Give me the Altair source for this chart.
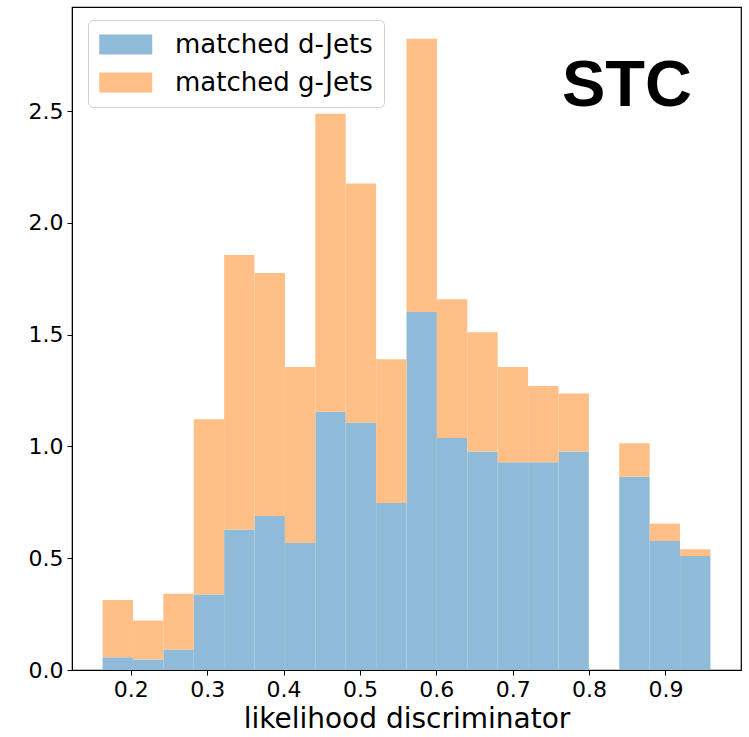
import altair as alt
import pandas as pd

# Histogram bin edges (20 equal bins over the discriminator range)
bin_lo = [0.163, 0.2028, 0.2426, 0.2824, 0.3222, 0.362, 0.4018, 0.4416, 0.4814, 0.5212,
          0.561, 0.6008, 0.6406, 0.6804, 0.7202, 0.76, 0.7998, 0.8396, 0.8794, 0.9192]
bin_hi = [0.2028, 0.2426, 0.2824, 0.3222, 0.362, 0.4018, 0.4416, 0.4814, 0.5212, 0.561,
          0.6008, 0.6406, 0.6804, 0.7202, 0.76, 0.7998, 0.8396, 0.8794, 0.9192, 0.959]

# Normalised counts per bin for each jet class (stacked: d-jets below, g-jets on top)
d_jets = [0.057, 0.047, 0.092, 0.338, 0.629, 0.689, 0.568, 1.155, 1.107, 0.747,
          1.602, 1.038, 0.977, 0.929, 0.929, 0.977, 0.0, 0.865, 0.577, 0.510]
g_jets = [0.256, 0.175, 0.249, 0.784, 1.227, 1.087, 0.788, 1.333, 1.069, 0.643,
          1.222, 0.621, 0.534, 0.427, 0.341, 0.260, 0.0, 0.149, 0.078, 0.030]

series_names = ["matched d-Jets", "matched g-Jets"]
series_colors = ["#8FBBD9", "#FFBF86"]

x_ticks = [0.2, 0.3, 0.4, 0.5, 0.6, 0.7, 0.8, 0.9]
y_ticks = [0.0, 0.5, 1.0, 1.5, 2.0, 2.5]

label_text = ["STC"]
label_x = [0.7645]
label_y = [2.525]

rows = []
for lo, hi, d, g in zip(bin_lo, bin_hi, d_jets, g_jets):
    rows.append({"lo": lo, "hi": hi, "base": 0.0, "top": d, "series": series_names[0], "order": 0})
    rows.append({"lo": lo, "hi": hi, "base": d, "top": d + g, "series": series_names[1], "order": 1})
hist = pd.DataFrame(rows)

font = "DejaVu Sans"

x_scale = alt.Scale(domain=[0.123, 0.999], nice=False, zero=False)
y_scale = alt.Scale(domain=[0, 2.966], nice=False, zero=False)

bars = alt.Chart(hist).mark_rect(opacity=1).encode(
    x=alt.X("lo:Q", scale=x_scale,
            axis=alt.Axis(values=x_ticks, format=".1f", title="likelihood discriminator")),
    x2="hi:Q",
    y=alt.Y("base:Q", scale=y_scale,
            axis=alt.Axis(values=y_ticks, format=".1f", title=None)),
    y2="top:Q",
    color=alt.Color(
        "series:N",
        scale=alt.Scale(domain=series_names, range=series_colors),
        legend=alt.Legend(
            title=None,
            orient="none",
            legendX=16,
            legendY=13,
            symbolType="M-1,-0.75H3V0.75H-1Z",
            symbolSize=702,
            symbolStrokeWidth=0,
            symbolOpacity=1,
            labelFont=font,
            labelFontSize=26,
            labelColor="black",
            labelLimit=0,
            labelOffset=49,
            rowPadding=11,
            padding=11,
            fillColor="white",
            strokeColor="#d0d0d0",
            cornerRadius=5,
        ),
    ),
    order="order:Q",
)

tag = alt.Chart(pd.DataFrame({"t": label_text, "x": label_x, "y": label_y})).mark_text(
    font="Liberation Sans", fontWeight="bold", fontSize=65, color="black",
    align="left", baseline="alphabetic",
).encode(x=alt.X("x:Q", scale=x_scale), y=alt.Y("y:Q", scale=y_scale), text="t:N")

chart = alt.layer(bars, tag).properties(
    width=669,
    height=663,
    autosize=alt.AutoSizeParams(type="none"),
    padding={"left": 72, "top": 7, "right": 8, "bottom": 67},
).configure_view(
    stroke="black", strokeWidth=1.2
).configure_axis(
    grid=False,
    domainColor="black",
    tickColor="black",
    tickSize=5,
    labelFont=font,
    labelFontSize=22,
    labelColor="black",
    labelPadding=4,
    titleFont=font,
    titleFontSize=28,
    titleFontWeight="normal",
    titleColor="black",
    titlePadding=5,
)

chart.save("out.html", embed_options={"renderer": "svg", "actions": False})
